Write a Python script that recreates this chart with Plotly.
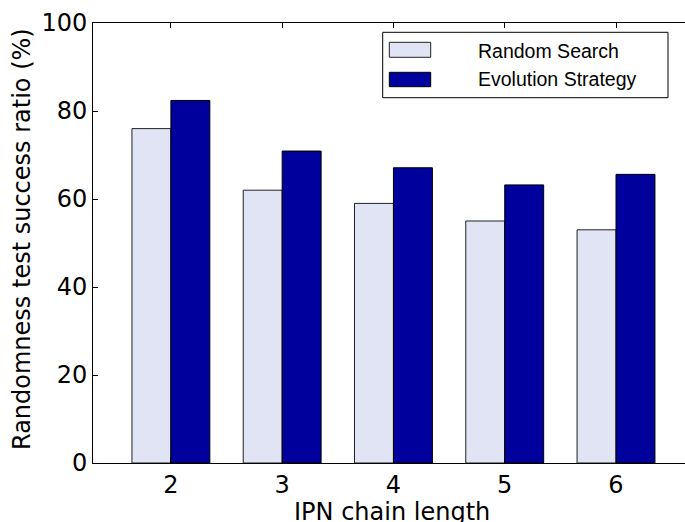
import plotly.graph_objects as go

# IPN chain lengths and success ratios (%) of the two search methods
chain_length = [2, 3, 4, 5, 6]
random_search = [76.0, 62.0, 59.0, 55.0, 53.0]
evolution_strategy = [82.4, 70.9, 67.1, 63.2, 65.6]
series_names = ["Random Search", "Evolution Strategy"]
y_ticks = [0, 20, 40, 60, 80, 100]

RS_COLOR = "#E0E4F5"
ES_COLOR = "#00009C"
BAR_W = 0.35

fig = go.Figure()
fig.add_trace(go.Bar(
    x=chain_length, y=random_search, name=series_names[0],
    width=BAR_W, offset=-BAR_W,
    marker=dict(color=RS_COLOR, line=dict(color="#222222", width=1)),
))
fig.add_trace(go.Bar(
    x=chain_length, y=evolution_strategy, name=series_names[1],
    width=BAR_W, offset=0,
    marker=dict(color=ES_COLOR, line=dict(color="#000000", width=1)),
))

# Plot-area pixel geometry (figure 685 x 522)
L, R, T, B = 93, 685, 23, 463
W, H = R - L, B - T


def px(xp):
    return (xp - L) / W


def py(yp):
    return (B - yp) / H


# Hand-drawn legend box, swatches and labels
shapes = [
    dict(type="rect", xref="paper", yref="paper",
         x0=px(382.7), x1=px(668), y0=py(97.7), y1=py(32.3),
         line=dict(color="#000000", width=1), fillcolor="white", layer="above"),
    dict(type="rect", xref="paper", yref="paper",
         x0=px(389.3), x1=px(430.7), y0=py(57.3), y1=py(42.3),
         line=dict(color="#222222", width=1), fillcolor=RS_COLOR, layer="above"),
    dict(type="rect", xref="paper", yref="paper",
         x0=px(389.3), x1=px(430.7), y0=py(86.7), y1=py(72.3),
         line=dict(color="#000000", width=1), fillcolor=ES_COLOR, layer="above"),
]
annotations = [
    dict(text=series_names[0], xref="paper", yref="paper",
         x=px(476), y=py(50.5), xanchor="left", yanchor="middle", showarrow=False,
         font=dict(family="Liberation Sans, Arial", size=19.5, color="black")),
    dict(text=series_names[1], xref="paper", yref="paper",
         x=px(476), y=py(79), xanchor="left", yanchor="middle", showarrow=False,
         font=dict(family="Liberation Sans, Arial", size=19.5, color="black")),
    dict(text="Randomness test success ratio (%)", xref="paper", yref="paper",
         x=px(22), y=py(239), xanchor="center", yanchor="middle", textangle=-90,
         showarrow=False,
         font=dict(family="DejaVu Sans", size=24, color="black")),
    dict(text="IPN chain length", xref="paper", yref="paper",
         x=px(391.5), y=py(512), xanchor="center", yanchor="middle",
         showarrow=False,
         font=dict(family="DejaVu Sans", size=24, color="black")),
]

fig.update_layout(
    width=685, height=522,
    margin=dict(l=L, r=685 - R, t=T, b=522 - B, pad=0),
    paper_bgcolor="white", plot_bgcolor="white",
    barmode="overlay", showlegend=False,
    shapes=shapes, annotations=annotations,
    font=dict(family="DejaVu Sans", size=24, color="black"),
)
fig.update_xaxes(
    range=[1.3, 6.62], tickvals=chain_length, ticktext=[str(c) for c in chain_length],
    showgrid=False, zeroline=False,
    showline=True, linecolor="black", linewidth=1, mirror="ticks",
    ticks="inside", ticklen=5, tickcolor="black", tickwidth=1,
    tickfont=dict(family="DejaVu Sans", size=24, color="black"),
)
fig.update_yaxes(
    range=[0, 100], tickvals=y_ticks,
    showgrid=False, zeroline=False,
    showline=True, linecolor="black", linewidth=1, mirror=False,
    ticks="inside", ticklen=5, tickcolor="black", tickwidth=1,
    tickfont=dict(family="DejaVu Sans", size=24, color="black"),
)

fig.write_html("out.html")
